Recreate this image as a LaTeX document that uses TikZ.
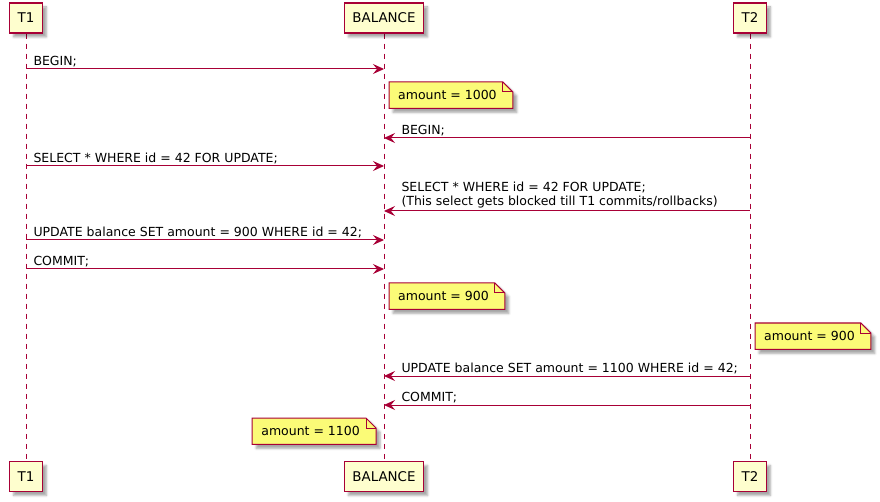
\documentclass[tikz,border=0pt]{standalone}
\usepackage{fontspec}
\setmainfont{DejaVu Sans}
\usepackage{tikz}
\usetikzlibrary{arrows.meta,backgrounds,shadows.blur}
\definecolor{umlred}{HTML}{A80036}
\definecolor{boxfill}{HTML}{FEFECE}
\definecolor{notefill}{HTML}{FBFB77}
% note outline with folded corner around a text node
\newcommand{\notefold}[1]{%
  \draw[noteline] ([xshift=-9pt]#1.north west) -- ([xshift=6pt]#1.north east)
    -- ([xshift=16pt,yshift=-10pt]#1.north east) -- ([xshift=16pt]#1.south east)
    -- ([xshift=-9pt]#1.south west) -- cycle;
  \draw[umlred,line width=1pt] ([xshift=6pt]#1.north east) |- ([xshift=16pt,yshift=-10pt]#1.north east);}

\begin{document}
\begin{tikzpicture}[x=1pt,y=-1pt,font=\fontsize{12.5}{14.5}\selectfont,
    actor/.style={rectangle,draw=umlred,line width=1.5pt,fill=boxfill,minimum height=30pt,inner xsep=8pt,
      font=\fontsize{13.4}{16}\selectfont,blur shadow={shadow xshift=4pt,shadow yshift=-4pt,shadow opacity=35}},
    lifeline/.style={umlred,line width=1pt,dash pattern=on 5pt off 5pt},
    msg/.style={-{Stealth[length=11pt,width=10pt,inset=4pt]},umlred,line width=1pt},
    lbl/.style={anchor=south west,inner sep=0pt,align=left,yshift=2pt,text=black},
    note/.style={inner xsep=0pt,inner ysep=0pt,minimum height=26pt},
    noteline/.style={draw=umlred,line width=1pt,fill=notefill,
      blur shadow={shadow xshift=4pt,shadow yshift=-4pt,shadow opacity=35}}]

  \useasboundingbox (0,0) rectangle (880,502);

  \node[actor] (t1top) at (26,18) {T1};
  \node[actor] (baltop) at (384,18) {BALANCE};
  \node[actor] (t2top) at (750,18) {T2};
  \node[actor] (t1bot) at (26,476.5) {T1};
  \node[actor] (balbot) at (384,476.5) {BALANCE};
  \node[actor] (t2bot) at (750,476.5) {T2};

  \begin{scope}[on background layer]
    \draw[lifeline] (t1top) -- (t1bot);
    \draw[lifeline] (baltop) -- (balbot);
    \draw[lifeline] (t2top) -- (t2bot);
  \end{scope}

  \draw[msg] (t1top |- 0,69) -- (baltop |- 0,69) node[lbl,pos=0,xshift=7pt] {BEGIN;};
  \draw[msg] (t2top |- 0,138) -- (baltop |- 0,138) node[lbl,pos=1,xshift=17pt] {BEGIN;};
  \draw[msg] (t1top |- 0,166) -- (baltop |- 0,166) node[lbl,pos=0,xshift=7pt] {SELECT * WHERE id = 42 FOR UPDATE;};
  \draw[msg] (t2top |- 0,211) -- (baltop |- 0,211) node[lbl,pos=1,xshift=17pt]
        {SELECT * WHERE id = 42 FOR UPDATE;\\(This select gets blocked till T1 commits/rollbacks)};
  \draw[msg] (t1top |- 0,240) -- (baltop |- 0,240) node[lbl,pos=0,xshift=7pt] {UPDATE balance SET amount = 900 WHERE id = 42;};
  \draw[msg] (t1top |- 0,269) -- (baltop |- 0,269) node[lbl,pos=0,xshift=7pt] {COMMIT;};
  \draw[msg] (t2top |- 0,376) -- (baltop |- 0,376) node[lbl,pos=1,xshift=17pt] {UPDATE balance SET amount = 1100 WHERE id = 42;};
  \draw[msg] (t2top |- 0,405) -- (baltop |- 0,405) node[lbl,pos=1,xshift=17pt] {COMMIT;};

  \node[note,anchor=north west] (n1000) at (398,82) {amount = 1000};
  \node[note,anchor=north west] (n900a) at (398,283) {amount = 900};
  \node[note,anchor=north west] (n900b) at (764,323) {amount = 900};
  \node[note,anchor=north east] (n1100) at (360,418) {amount = 1100};

  \begin{scope}[on background layer]
    \notefold{n1000}
    \notefold{n900a}
    \notefold{n900b}
    \notefold{n1100}
  \end{scope}
\end{tikzpicture}
\end{document}
